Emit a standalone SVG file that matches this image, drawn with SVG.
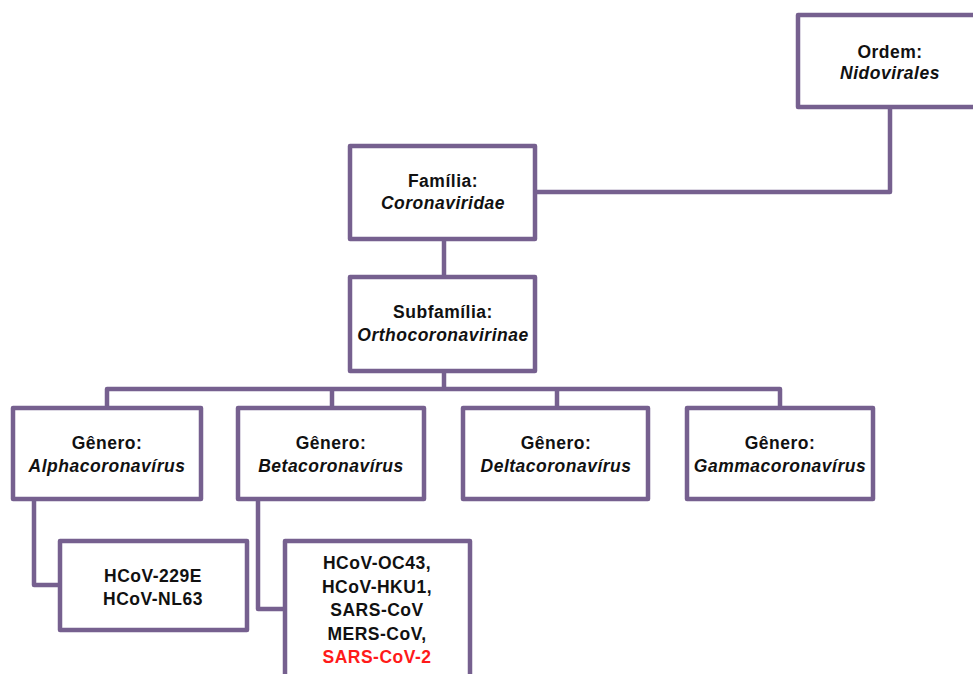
<svg xmlns="http://www.w3.org/2000/svg" width="973" height="674" viewBox="0 0 973 674">
<style>
.box{fill:#fff;stroke:#76608f;stroke-width:4.5;stroke-linejoin:round}
.con{fill:none;stroke:#76608f;stroke-width:4.5;stroke-linejoin:round}
text{font-family:"Liberation Sans",Arial,sans-serif;font-size:17.5px;letter-spacing:0.5px;font-weight:bold;text-anchor:middle;fill:#111}
.it{font-style:italic}
.red{fill:#ff1a1a}
</style>
<rect width="973" height="674" fill="#fff"/>
<g id="connectors">
<polyline class="con" points="890,107 890,192 535,192"/>
<line class="con" x1="444" y1="239" x2="444" y2="277"/>
<line class="con" x1="444" y1="371" x2="444" y2="389"/>
<polyline class="con" points="107,408 107,389 780,389 780,408"/>
<line class="con" x1="332" y1="389" x2="332" y2="408"/>
<line class="con" x1="557" y1="389" x2="557" y2="408"/>
<polyline class="con" points="34,499 34,585 60,585"/>
<polyline class="con" points="258,499 258,609 285,609"/>
</g>
<g id="ordem">
<rect class="box" x="798" y="15" width="190" height="92"/>
<text x="890" y="58">Ordem:</text>
<text class="it" x="890" y="79">Nidovirales</text>
</g>
<g id="familia">
<rect class="box" x="350" y="146" width="185" height="93"/>
<text x="443" y="187">Família:</text>
<text class="it" x="443" y="209">Coronaviridae</text>
</g>
<g id="subfamilia">
<rect class="box" x="350" y="277" width="185" height="94"/>
<text x="443" y="318">Subfamília:</text>
<text class="it" x="443" y="341">Orthocoronavirinae</text>
</g>
<g id="alpha">
<rect class="box" x="13" y="408" width="188" height="91"/>
<text x="107" y="449">Gênero:</text>
<text class="it" x="107" y="472">Alphacoronavírus</text>
</g>
<g id="beta">
<rect class="box" x="238" y="408" width="186" height="91"/>
<text x="331" y="449">Gênero:</text>
<text class="it" x="331" y="472">Betacoronavírus</text>
</g>
<g id="delta">
<rect class="box" x="463" y="408" width="185" height="91"/>
<text x="556" y="449">Gênero:</text>
<text class="it" x="556" y="472">Deltacoronavírus</text>
</g>
<g id="gamma">
<rect class="box" x="687" y="408" width="186" height="91"/>
<text x="780" y="449">Gênero:</text>
<text class="it" x="780" y="472">Gammacoronavírus</text>
</g>
<g id="alpha-species">
<rect class="box" x="60" y="541" width="187" height="89"/>
<text x="153" y="582">HCoV-229E</text>
<text x="153" y="605">HCoV-NL63</text>
</g>
<g id="beta-species">
<rect class="box" x="285" y="541" width="185" height="150"/>
<text x="377" y="569">HCoV-OC43,</text>
<text x="377" y="593">HCoV-HKU1,</text>
<text x="377" y="616">SARS-CoV</text>
<text x="377" y="640">MERS-CoV,</text>
<text class="red" x="377" y="663">SARS-CoV-2</text>
</g>
</svg>
